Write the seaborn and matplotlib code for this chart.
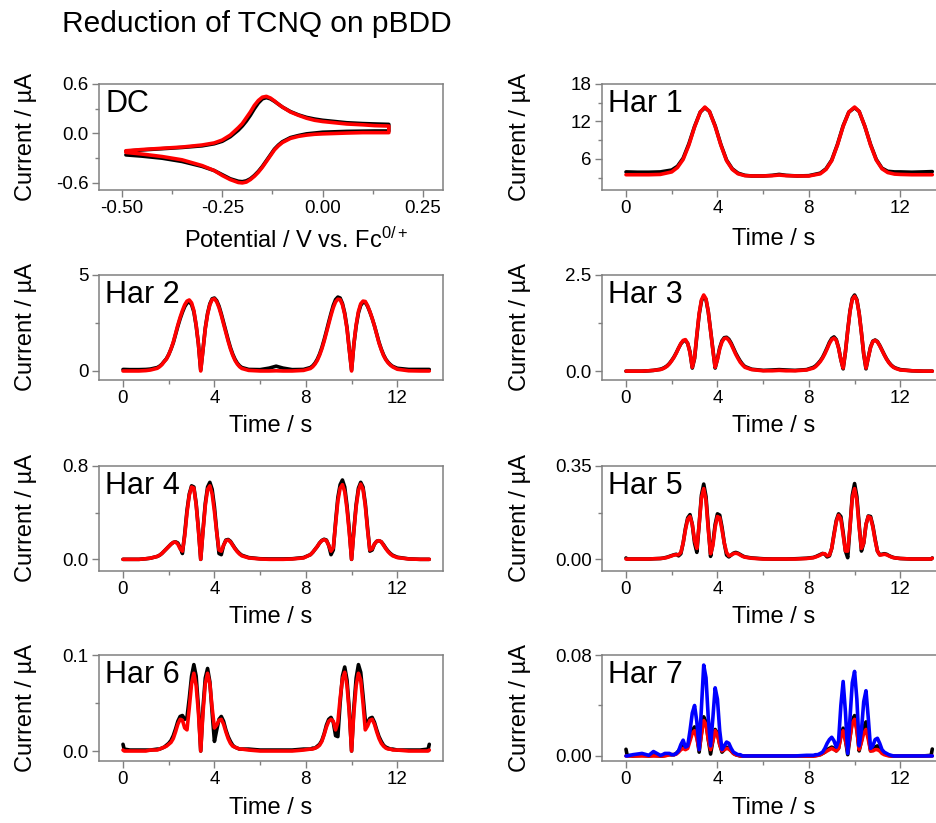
import pandas as pd
import seaborn as sns
import matplotlib.pyplot as plt
from matplotlib.ticker import FixedLocator, FormatStrFormatter

# ---------------- data ----------------
# DC cyclic voltammogram (potential in V vs Fc, current in uA)
dc_pot = [-0.49, -0.45, -0.40, -0.35, -0.30, -0.27, -0.25, -0.23, -0.21, -0.20,
          -0.19, -0.18, -0.17, -0.16, -0.15, -0.14, -0.13, -0.12, -0.11, -0.10,
          -0.08, -0.06, -0.04, -0.02, 0.00, 0.03, 0.06, 0.10, 0.13, 0.165]
dc_fwd_exp = [-0.215, -0.20, -0.185, -0.17, -0.15, -0.125, -0.095, -0.04, 0.04, 0.09,
              0.15, 0.22, 0.30, 0.37, 0.42, 0.435, 0.42, 0.39, 0.355, 0.32,
              0.265, 0.225, 0.195, 0.175, 0.16, 0.145, 0.13, 0.12, 0.115, 0.11]
dc_fwd_sim = [-0.21, -0.195, -0.18, -0.165, -0.14, -0.115, -0.08, -0.02, 0.07, 0.12,
              0.19, 0.26, 0.34, 0.40, 0.44, 0.45, 0.43, 0.395, 0.355, 0.32,
              0.26, 0.22, 0.185, 0.16, 0.145, 0.13, 0.115, 0.105, 0.095, 0.09]
dc_rev_exp = [-0.26, -0.275, -0.30, -0.34, -0.40, -0.45, -0.50, -0.55, -0.58, -0.585,
              -0.575, -0.55, -0.51, -0.46, -0.40, -0.33, -0.26, -0.19, -0.14, -0.10,
              -0.05, -0.025, -0.005, 0.005, 0.015, 0.02, 0.025, 0.028, 0.03, 0.03]
dc_rev_sim = [-0.23, -0.25, -0.28, -0.32, -0.39, -0.45, -0.51, -0.56, -0.595, -0.60,
              -0.59, -0.56, -0.52, -0.47, -0.41, -0.34, -0.27, -0.20, -0.15, -0.11,
              -0.06, -0.035, -0.02, -0.01, -0.005, 0.0, 0.005, 0.01, 0.01, 0.01]

# 1st harmonic (time in s, current in uA)
t_h1 = [0.0, 0.5, 1.0, 1.5, 2.0, 2.25, 2.5, 2.75, 3.0, 3.25,
        3.45, 3.65, 3.9, 4.15, 4.4, 4.65, 4.9, 5.2, 5.5, 6.0,
        6.4, 6.7, 7.0, 7.5, 8.0, 8.5, 8.75, 9.0, 9.25, 9.5,
        9.75, 10.0, 10.2, 10.45, 10.7, 10.95, 11.2, 11.45, 11.75, 12.0,
        12.5, 13.0, 13.4]
h1_exp = [3.9, 3.85, 3.85, 3.9, 4.2, 4.8, 6.1, 8.4, 11.2, 13.5,
          14.2, 13.6, 11.3, 8.3, 5.8, 4.4, 3.7, 3.35, 3.25, 3.25,
          3.35, 3.5, 3.35, 3.25, 3.3, 3.7, 4.4, 5.8, 8.3, 11.3,
          13.5, 14.2, 13.6, 11.2, 8.3, 5.9, 4.5, 4.0, 3.9, 3.9,
          3.85, 3.9, 3.95]
h1_sim = [3.45, 3.45, 3.45, 3.5, 3.9, 4.6, 5.9, 8.2, 11.1, 13.5,
          14.3, 13.6, 11.2, 8.2, 5.7, 4.3, 3.6, 3.3, 3.25, 3.25,
          3.3, 3.4, 3.3, 3.25, 3.25, 3.6, 4.3, 5.7, 8.2, 11.2,
          13.5, 14.3, 13.6, 11.2, 8.2, 5.8, 4.4, 3.8, 3.55, 3.5,
          3.45, 3.45, 3.45]

# time samples shared by harmonics 2-7
t_h = [0.0, 0.05, 0.3, 0.7, 1.0, 1.2, 1.5,
       1.6, 1.7, 1.8, 1.9, 2.0, 2.1, 2.2, 2.3, 2.4, 2.5,
       2.6, 2.7, 2.8, 2.9, 3.0, 3.1, 3.2, 3.3, 3.4, 3.5,
       3.6, 3.7, 3.8, 3.9, 4.0, 4.1, 4.2, 4.3, 4.4, 4.5,
       4.6, 4.7, 4.8, 4.9, 5.0, 5.1, 5.2,
       5.5, 6.0, 6.4, 6.7, 7.0, 7.4, 7.9,
       8.2, 8.3, 8.4, 8.5, 8.6, 8.7, 8.8, 8.9, 9.0, 9.1,
       9.2, 9.3, 9.4, 9.5, 9.6, 9.7, 9.8, 9.9, 10.0, 10.1,
       10.2, 10.3, 10.4, 10.5, 10.6, 10.7, 10.8, 10.9, 11.0, 11.1,
       11.2, 11.3, 11.4, 11.5, 11.6, 11.7, 11.8,
       12.0, 12.5, 13.0, 13.35, 13.4]

h2_exp = [0.08, 0.08, 0.07, 0.07, 0.08, 0.10, 0.18,
          0.25, 0.35, 0.50, 0.64, 0.86, 1.14, 1.47, 1.90, 2.33, 2.72,
          3.06, 3.35, 3.54, 3.60, 3.46, 3.08, 2.36, 1.40, 0.05, 1.12,
          2.24, 3.00, 3.50, 3.76, 3.80, 3.66, 3.38, 2.98, 2.53, 2.08,
          1.63, 1.22, 0.88, 0.61, 0.41, 0.27, 0.18,
          0.08, 0.07, 0.15, 0.25, 0.15, 0.07, 0.08,
          0.18, 0.27, 0.41, 0.61, 0.88, 1.22, 1.63, 2.08, 2.55, 3.00,
          3.42, 3.72, 3.85, 3.80, 3.52, 3.02, 2.26, 1.13, 0.05, 1.38,
          2.34, 3.02, 3.42, 3.58, 3.57, 3.37, 3.08, 2.74, 2.36, 1.93,
          1.50, 1.14, 0.84, 0.61, 0.45, 0.33, 0.24,
          0.14, 0.08, 0.08, 0.08, 0.08]
h2_sim = [0.0, 0.0, 0.0, 0.0, 0.02, 0.05, 0.14,
          0.22, 0.33, 0.48, 0.62, 0.85, 1.15, 1.50, 1.95, 2.40, 2.80,
          3.15, 3.45, 3.64, 3.70, 3.55, 3.15, 2.40, 1.40, 0.0, 1.10,
          2.20, 2.95, 3.45, 3.72, 3.76, 3.60, 3.30, 2.90, 2.45, 2.00,
          1.55, 1.15, 0.82, 0.55, 0.36, 0.22, 0.13,
          0.03, 0.0, 0.0, 0.01, 0.0, 0.0, 0.03,
          0.13, 0.22, 0.36, 0.55, 0.82, 1.15, 1.55, 2.00, 2.45, 2.90,
          3.30, 3.60, 3.74, 3.72, 3.45, 2.95, 2.20, 1.10, 0.0, 1.40,
          2.40, 3.10, 3.50, 3.64, 3.62, 3.40, 3.10, 2.75, 2.35, 1.90,
          1.45, 1.10, 0.80, 0.58, 0.42, 0.30, 0.21,
          0.09, 0.01, 0.0, 0.0, 0.0]

h3_exp = [0.0, 0.0, 0.0, 0.0, 0.01, 0.02, 0.05,
          0.07, 0.10, 0.14, 0.20, 0.28, 0.37, 0.48, 0.60, 0.71, 0.78,
          0.80, 0.72, 0.50, 0.08, 0.33, 0.92, 1.47, 1.82, 1.95, 1.86,
          1.54, 1.06, 0.57, 0.08, 0.32, 0.61, 0.79, 0.87, 0.88, 0.83,
          0.73, 0.60, 0.47, 0.36, 0.26, 0.18, 0.12,
          0.05, 0.02, 0.03, 0.04, 0.03, 0.02, 0.04,
          0.10, 0.14, 0.20, 0.27, 0.36, 0.48, 0.61, 0.75, 0.85, 0.89,
          0.82, 0.61, 0.30, 0.06, 0.50, 1.06, 1.57, 1.89, 1.98, 1.86,
          1.51, 1.00, 0.44, 0.06, 0.36, 0.63, 0.78, 0.81, 0.77, 0.67,
          0.55, 0.43, 0.32, 0.23, 0.16, 0.11, 0.08,
          0.04, 0.01, 0.0, 0.0, 0.0]
h3_sim = [0.0, 0.0, 0.0, 0.0, 0.01, 0.02, 0.04,
          0.06, 0.09, 0.13, 0.19, 0.27, 0.36, 0.47, 0.60, 0.72, 0.80,
          0.82, 0.72, 0.48, 0.10, 0.35, 0.95, 1.50, 1.85, 1.98, 1.88,
          1.55, 1.05, 0.55, 0.10, 0.30, 0.58, 0.76, 0.85, 0.86, 0.80,
          0.70, 0.57, 0.44, 0.33, 0.23, 0.16, 0.10,
          0.04, 0.01, 0.01, 0.02, 0.01, 0.01, 0.03,
          0.08, 0.12, 0.18, 0.25, 0.34, 0.45, 0.58, 0.72, 0.82, 0.86,
          0.80, 0.60, 0.30, 0.08, 0.50, 1.05, 1.55, 1.86, 1.95, 1.84,
          1.50, 1.00, 0.45, 0.08, 0.35, 0.62, 0.77, 0.80, 0.76, 0.66,
          0.54, 0.42, 0.31, 0.22, 0.15, 0.10, 0.07,
          0.03, 0.01, 0.0, 0.0, 0.0]

h4_exp = [0.0, 0.0, 0.0, 0.0, 0.005, 0.01, 0.025,
          0.035, 0.05, 0.07, 0.09, 0.11, 0.13, 0.145, 0.15, 0.14, 0.10,
          0.05, 0.22, 0.42, 0.56, 0.63, 0.62, 0.48, 0.26, 0.0, 0.25,
          0.48, 0.62, 0.66, 0.60, 0.45, 0.24, 0.05, 0.04, 0.12, 0.165,
          0.17, 0.155, 0.125, 0.095, 0.07, 0.05, 0.035,
          0.015, 0.005, 0.003, 0.003, 0.003, 0.005, 0.015,
          0.04, 0.06, 0.085, 0.11, 0.14, 0.162, 0.172, 0.165, 0.12, 0.04,
          0.08, 0.32, 0.53, 0.64, 0.68, 0.62, 0.46, 0.25, 0.0, 0.25,
          0.47, 0.61, 0.66, 0.62, 0.48, 0.27, 0.07, 0.08, 0.13, 0.155,
          0.16, 0.15, 0.125, 0.095, 0.07, 0.05, 0.035,
          0.018, 0.004, 0.0, 0.0, 0.0]
h4_sim = [0.0, 0.0, 0.0, 0.0, 0.005, 0.01, 0.025,
          0.035, 0.05, 0.07, 0.09, 0.11, 0.13, 0.145, 0.148, 0.13, 0.09,
          0.07, 0.20, 0.40, 0.55, 0.62, 0.61, 0.47, 0.25, 0.0, 0.24,
          0.46, 0.60, 0.63, 0.56, 0.41, 0.23, 0.08, 0.07, 0.12, 0.16,
          0.165, 0.15, 0.12, 0.09, 0.065, 0.045, 0.03,
          0.012, 0.003, 0.0, 0.0, 0.0, 0.003, 0.012,
          0.04, 0.06, 0.085, 0.11, 0.14, 0.16, 0.168, 0.16, 0.12, 0.07,
          0.10, 0.30, 0.50, 0.61, 0.64, 0.58, 0.43, 0.23, 0.0, 0.24,
          0.45, 0.59, 0.645, 0.60, 0.46, 0.25, 0.08, 0.09, 0.13, 0.155,
          0.16, 0.15, 0.12, 0.09, 0.065, 0.045, 0.03,
          0.015, 0.003, 0.0, 0.0, 0.0]

h5_exp = [0.004, 0.0, 0.0, 0.0, 0.0, 0.001, 0.002,
          0.003, 0.005, 0.007, 0.01, 0.013, 0.016, 0.018, 0.012, 0.02, 0.06,
          0.115, 0.155, 0.167, 0.13, 0.06, 0.025, 0.13, 0.24, 0.282, 0.235,
          0.12, 0.01, 0.06, 0.13, 0.17, 0.165, 0.12, 0.06, 0.015, 0.008,
          0.015, 0.022, 0.025, 0.022, 0.017, 0.012, 0.008,
          0.004, 0.001, 0.0, 0.0, 0.0, 0.001, 0.003,
          0.006, 0.009, 0.013, 0.017, 0.021, 0.018, 0.008, 0.012, 0.04, 0.095,
          0.145, 0.17, 0.16, 0.10, 0.03, 0.005, 0.12, 0.24, 0.284, 0.235,
          0.13, 0.03, 0.06, 0.13, 0.162, 0.16, 0.125, 0.075, 0.03, 0.016,
          0.018, 0.02, 0.018, 0.013, 0.009, 0.006, 0.004,
          0.002, 0.0, 0.0, 0.0, 0.004]
h5_sim = [0.0, 0.0, 0.0, 0.0, 0.0, 0.001, 0.002,
          0.003, 0.004, 0.006, 0.009, 0.012, 0.015, 0.016, 0.016, 0.025, 0.06,
          0.11, 0.15, 0.16, 0.13, 0.07, 0.04, 0.13, 0.23, 0.265, 0.22,
          0.11, 0.02, 0.05, 0.12, 0.16, 0.155, 0.11, 0.06, 0.025, 0.012,
          0.015, 0.02, 0.022, 0.02, 0.015, 0.01, 0.007,
          0.003, 0.0, 0.0, 0.0, 0.0, 0.0, 0.002,
          0.005, 0.008, 0.011, 0.015, 0.02, 0.02, 0.012, 0.015, 0.04, 0.09,
          0.14, 0.165, 0.15, 0.09, 0.03, 0.03, 0.12, 0.23, 0.265, 0.22,
          0.12, 0.04, 0.06, 0.13, 0.16, 0.155, 0.12, 0.07, 0.03, 0.015,
          0.016, 0.018, 0.016, 0.012, 0.008, 0.005, 0.004,
          0.002, 0.0, 0.0, 0.0, 0.003]

h6_exp = [0.007, 0.002, 0.001, 0.001, 0.001, 0.001, 0.002,
          0.002, 0.003, 0.004, 0.006, 0.008, 0.011, 0.016, 0.023, 0.031, 0.036,
          0.037, 0.033, 0.035, 0.055, 0.078, 0.09, 0.078, 0.045, 0.0, 0.045,
          0.076, 0.086, 0.072, 0.04, 0.01, 0.022, 0.033, 0.036, 0.031, 0.022,
          0.015, 0.01, 0.006, 0.004, 0.003, 0.002, 0.002,
          0.002, 0.001, 0.001, 0.001, 0.001, 0.001, 0.002,
          0.002, 0.003, 0.003, 0.005, 0.007, 0.011, 0.018, 0.027, 0.033, 0.035,
          0.03, 0.016, 0.015, 0.05, 0.078, 0.0875, 0.074, 0.043, 0.0, 0.045,
          0.076, 0.09, 0.082, 0.058, 0.032, 0.03, 0.034, 0.035, 0.03, 0.022,
          0.015, 0.01, 0.006, 0.004, 0.003, 0.002, 0.002,
          0.001, 0.001, 0.001, 0.002, 0.007]
h6_sim = [0.001, 0.0, 0.0, 0.0, 0.0, 0.001, 0.001,
          0.002, 0.003, 0.004, 0.005, 0.007, 0.009, 0.013, 0.02, 0.028, 0.033,
          0.032, 0.024, 0.022, 0.045, 0.07, 0.081, 0.068, 0.04, 0.0, 0.04,
          0.07, 0.081, 0.07, 0.045, 0.024, 0.027, 0.032, 0.033, 0.028, 0.02,
          0.013, 0.008, 0.005, 0.004, 0.003, 0.002, 0.002,
          0.001, 0.0, 0.0, 0.0, 0.0, 0.0, 0.001,
          0.002, 0.002, 0.003, 0.004, 0.006, 0.01, 0.017, 0.025, 0.031, 0.033,
          0.031, 0.022, 0.03, 0.055, 0.075, 0.082, 0.068, 0.04, 0.0, 0.04,
          0.068, 0.081, 0.074, 0.05, 0.022, 0.026, 0.032, 0.033, 0.028, 0.02,
          0.013, 0.008, 0.005, 0.003, 0.002, 0.002, 0.001,
          0.001, 0.0, 0.0, 0.0, 0.001]

h7_exp = [0.0053, 0.0005, 0.0, 0.0005, 0.0, 0.0005, 0.0,
          0.0, 0.0005, 0.001, 0.001, 0.001, 0.001, 0.002, 0.004, 0.007, 0.009,
          0.007, 0.008, 0.014, 0.020, 0.023, 0.016, 0.003, 0.018, 0.031, 0.027,
          0.013, 0.0015, 0.012, 0.021, 0.018, 0.009, 0.003, 0.005, 0.007, 0.006,
          0.004, 0.002, 0.001, 0.0005, 0.0, 0.0, 0.0,
          0.0, 0.0, 0.0, 0.0, 0.0, 0.0, 0.0,
          0.0, 0.0005, 0.001, 0.001, 0.002, 0.003, 0.005, 0.006, 0.007, 0.006,
          0.004, 0.006, 0.016, 0.022, 0.013, 0.001, 0.015, 0.028, 0.032, 0.022,
          0.004, 0.012, 0.023, 0.027, 0.016, 0.004, 0.005, 0.007, 0.008, 0.006,
          0.003, 0.002, 0.001, 0.0005, 0.0, 0.0, 0.0,
          0.0, 0.0, 0.0, 0.0005, 0.0055]
h7_sim = [0.0, 0.0, 0.0, 0.0, 0.0, 0.0, 0.0,
          0.0, 0.0, 0.0005, 0.001, 0.001, 0.001, 0.0015, 0.003, 0.005, 0.006,
          0.005, 0.006, 0.012, 0.018, 0.020, 0.014, 0.005, 0.017, 0.028, 0.025,
          0.013, 0.005, 0.012, 0.020, 0.017, 0.009, 0.004, 0.005, 0.006, 0.0055,
          0.004, 0.002, 0.001, 0.0005, 0.0, 0.0, 0.0,
          0.0, 0.0, 0.0, 0.0, 0.0, 0.0, 0.0,
          0.0, 0.0, 0.0005, 0.001, 0.002, 0.003, 0.004, 0.005, 0.006, 0.005,
          0.004, 0.006, 0.015, 0.020, 0.012, 0.004, 0.015, 0.026, 0.029, 0.020,
          0.005, 0.011, 0.018, 0.021, 0.013, 0.004, 0.004, 0.005, 0.005, 0.004,
          0.002, 0.001, 0.0005, 0.0, 0.0, 0.0, 0.0,
          0.0, 0.0, 0.0, 0.0, 0.0]
h7_sim2 = [0.0, 0.0, 0.001, 0.002, 0.0005, 0.0035, 0.0005,
           0.001, 0.002, 0.002, 0.002, 0.001, 0.001, 0.002, 0.004, 0.009, 0.0125,
           0.007, 0.008, 0.020, 0.034, 0.040, 0.027, 0.005, 0.038, 0.072, 0.062,
           0.030, 0.008, 0.030, 0.054, 0.045, 0.020, 0.005, 0.008, 0.011, 0.010,
           0.006, 0.003, 0.002, 0.001, 0.001, 0.0, 0.0,
           0.0, 0.0, 0.0, 0.0, 0.0, 0.0, 0.0005,
           0.0005, 0.001, 0.001, 0.002, 0.003, 0.006, 0.010, 0.013, 0.0148, 0.012,
           0.007, 0.012, 0.040, 0.059, 0.035, 0.002, 0.030, 0.058, 0.067, 0.045,
           0.008, 0.020, 0.043, 0.0517, 0.030, 0.006, 0.008, 0.013, 0.014, 0.010,
           0.005, 0.003, 0.002, 0.001, 0.0005, 0.0, 0.0,
           0.0, 0.0, 0.0, 0.0, 0.0]

# ---------------- style ----------------
sns.set_theme(style='ticks')
plt.rcParams['font.family'] = ['Liberation Sans', 'DejaVu Sans']
plt.rcParams['mathtext.fontset'] = 'custom'
plt.rcParams['mathtext.rm'] = 'Liberation Sans'
plt.rcParams['mathtext.it'] = 'Liberation Sans:italic'
plt.rcParams['axes.unicode_minus'] = False
plt.rcParams['text.color'] = 'black'
plt.rcParams['axes.labelcolor'] = 'black'

W, H = 937, 823
GRAY = '#808080'
LW = 2.6
colors = {'exp': 'black', 'sim': '#ff0000', 'sim2': '#0000ff'}


def rect(l, t, r, b):
    # pixel box -> figure fraction
    return [l / W, 1 - b / H, (r - l) / W, (b - t) / H]


def draw(ax, x, series):
    df = pd.concat([pd.DataFrame({'x': x, 'y': y, 'run': name}) for name, y in series])
    sns.lineplot(data=df, x='x', y='y', hue='run', hue_order=[n for n, _ in series],
                 palette=colors, sort=False, estimator=None, lw=LW, legend=False, ax=ax)


def style(ax, name, xlim, ylim, xmaj, xmin, ymaj, ymin, yfmt, xfmt='%d',
          left=True, xlab='Time / s', xlab_pos=(0.5, -0.345)):
    ax.set_xlim(*xlim)
    ax.set_ylim(*ylim)
    ax.xaxis.set_major_locator(FixedLocator(xmaj))
    ax.xaxis.set_minor_locator(FixedLocator(xmin))
    ax.yaxis.set_major_locator(FixedLocator(ymaj))
    ax.yaxis.set_minor_locator(FixedLocator(ymin))
    ax.xaxis.set_major_formatter(FormatStrFormatter(xfmt))
    ax.yaxis.set_major_formatter(FormatStrFormatter(yfmt))
    for s in ax.spines.values():
        s.set_color(GRAY)
        s.set_linewidth(1.1)
    ax.tick_params(which='major', direction='out', length=5, width=1.0, color=GRAY,
                   labelsize=13.5, labelcolor='black', pad=2.5)
    ax.tick_params(which='minor', direction='out', length=3, width=1.0, color=GRAY)
    ax.set_xlabel(xlab, fontsize=17, color='black')
    ax.set_ylabel('Current / \u00b5A', fontsize=17, color='black')
    ax.xaxis.set_label_coords(*xlab_pos)
    ax.yaxis.set_label_coords(-0.18 if left else -0.206, 0.5)
    ax.text(0.018, 0.95, name, transform=ax.transAxes, fontsize=22, color='black',
            ha='left', va='top', zorder=1)


fig = plt.figure(figsize=(W / 100, H / 100), dpi=100)

tx = (-1.05, 14.0)
txmaj = [0, 4, 8, 12]
txmin = [2, 6, 10]

# DC
ax = fig.add_axes(rect(99, 84, 443, 190))
draw(ax, dc_pot + dc_pot[::-1],
     [('exp', dc_fwd_exp + dc_rev_exp[::-1]), ('sim', dc_fwd_sim + dc_rev_sim[::-1])])
style(ax, 'DC', (-0.557, 0.30), (-0.686, 0.6), [-0.5, -0.25, 0.0, 0.25],
      [-0.375, -0.125, 0.125], [-0.6, 0.0, 0.6], [-0.3, 0.3], '%.1f', xfmt='%.2f',
      xlab='Potential / V vs. Fc$^{0/+}$', xlab_pos=(0.573, -0.36))

# Har 1
ax = fig.add_axes(rect(602, 84, 946, 190))
draw(ax, t_h1, [('exp', h1_exp), ('sim', h1_sim)])
style(ax, 'Har 1', tx, (1.0, 18.0), txmaj, txmin, [6, 12, 18], [3, 9, 15], '%d',
      left=False, xlab_pos=(0.5, -0.354))

# Har 2
ax = fig.add_axes(rect(99, 275, 443, 380))
draw(ax, t_h, [('exp', h2_exp), ('sim', h2_sim)])
style(ax, 'Har 2', tx, (-0.47, 5.0), txmaj, txmin, [0, 5], [2.5], '%d',
      xlab_pos=(0.5, -0.338))

# Har 3
ax = fig.add_axes(rect(602, 275, 946, 380))
draw(ax, t_h, [('exp', h3_exp), ('sim', h3_sim)])
style(ax, 'Har 3', tx, (-0.23, 2.5), txmaj, txmin, [0.0, 2.5], [1.25], '%.1f',
      left=False, xlab_pos=(0.5, -0.338))

# Har 4
ax = fig.add_axes(rect(99, 466, 443, 571))
draw(ax, t_h, [('exp', h4_exp), ('sim', h4_sim)])
style(ax, 'Har 4', tx, (-0.1, 0.8), txmaj, txmin, [0.0, 0.8], [0.4], '%.1f',
      xlab_pos=(0.5, -0.33))

# Har 5
ax = fig.add_axes(rect(602, 466, 946, 571))
draw(ax, t_h, [('exp', h5_exp), ('sim', h5_sim)])
style(ax, 'Har 5', tx, (-0.045, 0.35), txmaj, txmin, [0.0, 0.35], [0.175], '%.2f',
      left=False, xlab_pos=(0.5, -0.33))

# Har 6
ax = fig.add_axes(rect(99, 655, 443, 761))
draw(ax, t_h, [('exp', h6_exp), ('sim', h6_sim)])
style(ax, 'Har 6', tx, (-0.0104, 0.1), txmaj, txmin, [0.0, 0.1], [0.05], '%.1f',
      xlab_pos=(0.5, -0.344))

# Har 7
ax = fig.add_axes(rect(602, 655, 946, 761))
draw(ax, t_h, [('exp', h7_exp), ('sim', h7_sim), ('sim2', h7_sim2)])
style(ax, 'Har 7', tx, (-0.004, 0.08), txmaj, txmin, [0.0, 0.08], [0.04], '%.2f',
      left=False, xlab_pos=(0.5, -0.344))

fig.text(62 / W, 1 - 10.5 / H, 'Reduction of TCNQ on pBDD', fontsize=21.5,
         color='black', ha='left', va='top')

fig.savefig('out.png', dpi=100)
